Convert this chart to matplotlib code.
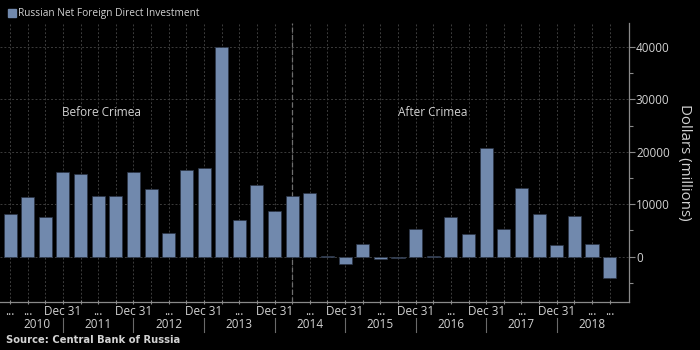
import matplotlib
matplotlib.use("Agg")
import matplotlib.pyplot as plt
import matplotlib.transforms as mtransforms
import numpy as np

# ---- data (quarterly, 2010 Q1 .. 2018 Q3), USD millions ----
quarters = [f"{y} Q{q}" for y in range(2010, 2019) for q in range(1, 5)][:35]
values = [8100, 11400, 7600, 16100, 15700, 11500, 11500, 16200,
          12900, 4500, 16500, 16900, 39900, 7000, 13600, 8700,
          11500, 12100, 50, -1400, 2400, -400, -200, 5300,
          200, 7600, 4300, 20700, 5300, 13100, 8100, 2200,
          7700, 2400, -4100]
tick_labels = {0: "...", 1: "...", 3: "Dec 31", 5: "...", 7: "Dec 31", 9: "...",
               11: "Dec 31", 13: "...", 15: "Dec 31", 17: "...", 19: "Dec 31",
               21: "...", 23: "Dec 31", 25: "...", 27: "Dec 31", 29: "...",
               31: "Dec 31", 33: "...", 34: "..."}
years = [2010, 2011, 2012, 2013, 2014, 2015, 2016, 2017, 2018]
y_ticks = [0, 10000, 20000, 30000, 40000]
series_name = "Russian Net Foreign Direct Investment"
divider_index = 16  # 2014 Q1

BAR = "#7189ad"
TXT = "#d2d2d2"
GRID = "#3c3c3c"
AXC = "#8a8a8a"

plt.rcParams['font.family'] = ['Open Sans', 'DejaVu Sans']

fig = plt.figure(figsize=(7, 3.5), dpi=100, facecolor="black")
ax = fig.add_axes([0.0, 0.1363, 0.8986, 0.7971], facecolor="black")

x = np.arange(len(values))
ax.bar(x, values, width=0.74, color=BAR, edgecolor="#2a3445", linewidth=0.5, zorder=3)

xlim = (-0.57, 35.1)
ax.set_xlim(*xlim)
ax.set_ylim(-8700, 44500)

# gridlines
for xi in x:
    ax.axvline(xi, color=GRID, lw=0.7, ls=(0, (2, 2)), zorder=1)
for yv in y_ticks:
    ax.axhline(yv, color=GRID, lw=0.7, ls=(0, (2, 2)), zorder=1)
ax.axvline(divider_index, color="#6e6e6e", lw=0.9, ls=(0, (4, 2)), zorder=2)

# spines
for s in ["top", "left"]:
    ax.spines[s].set_visible(False)
ax.spines["right"].set_color(AXC)
ax.spines["bottom"].set_color(AXC)
ax.spines["right"].set_linewidth(0.9)
ax.spines["bottom"].set_linewidth(0.9)

# y axis on right
ax.yaxis.tick_right()
ax.set_yticks(y_ticks)
ax.set_yticklabels([str(v) for v in y_ticks])
ax.set_yticks(np.arange(-5000, 45000, 10000), minor=True)
ax.tick_params(axis="y", which="major", colors=AXC, labelcolor=TXT, length=4,
               width=0.8, pad=1, labelsize=8.5)
ax.tick_params(axis="y", which="minor", colors=AXC, length=3, width=0.8)
ax.yaxis.set_label_position("right")
ax.set_ylabel("Dollars (millions)", color=TXT, fontsize=10.8, rotation=270,
              labelpad=16)

# x axis
ax.set_xticks(x)
ax.set_xticklabels([tick_labels.get(i, "") for i in x])
ax.tick_params(axis="x", which="major", colors=AXC, labelcolor=TXT, length=2.5,
               width=0.8, direction="inout", pad=1, labelsize=8.5)

# year labels and separators
trans = mtransforms.blended_transform_factory(ax.transData, ax.transAxes)
for k, yr in enumerate(years):
    start = 4 * k - 1
    end = 4 * k + 3
    a = max(start, 0)
    b = min(end, xlim[1])
    ax.text((a + b) / 2, -0.078, str(yr), transform=trans, ha="center",
            va="center", color=TXT, fontsize=8.5, clip_on=False)
    if k > 0:
        ax.plot([start, start], [-0.056, -0.106], transform=trans, color="#6a6a6a",
                lw=0.8, clip_on=False)

# annotations
ax.text(2.95, 0.682, "Before Crimea", transform=trans, ha="left", va="center",
        color=TXT, fontsize=8.5)
ax.text(22.0, 0.682, "After Crimea", transform=trans, ha="left", va="center",
        color=TXT, fontsize=8.5)

# legend
fig.patches.append(plt.Rectangle((8 / 700, 1 - 16.5 / 350), 7.5 / 700, 7 / 350,
                                 transform=fig.transFigure, color=BAR))
fig.text(17.5 / 700, 1 - 13.3 / 350, series_name, color=TXT, fontsize=7.3,
         ha="left", va="center")

# source
fig.text(6 / 700, 1 - 340 / 350, "Source: Central Bank of Russia", color=TXT,
         fontsize=7.2, fontweight="bold", family="DejaVu Sans", ha="left",
         va="center")

fig.savefig("out.png", dpi=100, facecolor="black")
